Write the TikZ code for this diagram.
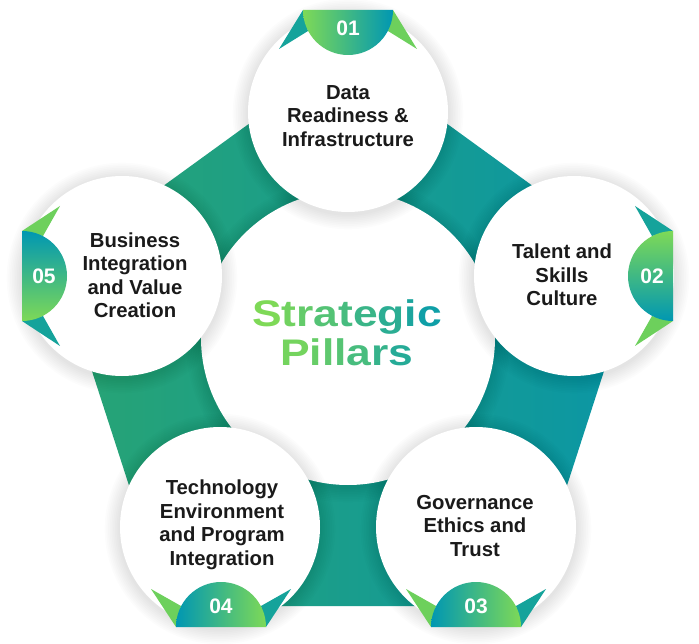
\documentclass[tikz,border=0pt]{standalone}
\usepackage{fontspec}
\setmainfont{Liberation Sans}
\newfontfamily\titlefont[FakeStretch=1.2]{Liberation Sans}
\usepackage{xcolor}
\usetikzlibrary{positioning}

\definecolor{pillarGreen}{HTML}{7ED957}
\definecolor{pillarTeal}{HTML}{0097B2}
\definecolor{wingGreen}{HTML}{6DD05C}
\definecolor{wingTeal}{HTML}{15A39B}
\definecolor{ringGreen}{HTML}{28A473}
\definecolor{ringTeal}{HTML}{0A96A6}
\definecolor{labelInk}{HTML}{1A1A1A}

% soft grey glow round a circle
\newcommand{\glowat}[2]{\foreach \g in {1,...,9}{\fill[black, opacity=0.012] #1 ++(0,2) circle ({#2+1.7*\g});}}
% one letter of the title in the green-teal mix
\newcommand{\tg}[2]{\textcolor{pillarGreen!#1!pillarTeal}{#2}}

\begin{document}
\begin{tikzpicture}[x=1pt, y=-1pt,
    pillar/.style={circle, fill=white, minimum size=200pt, inner sep=0pt},
    hub/.style={circle, fill=white, minimum size=294pt, inner sep=0pt},
    pillartext/.style={font=\bfseries\fontsize{20.3}{23.5}\selectfont, text=labelInk, align=center},
    badgenum/.style={font=\bfseries\fontsize{21}{21}\selectfont, text=white},
    titletext/.style={font=\titlefont\bfseries\fontsize{37}{38.5}\selectfont, align=center}]
    \fill[white] (0,0) rectangle (699,644);
    \useasboundingbox (0,0) rectangle (699,644);

    % the pentagon band
    \shade[left color=ringGreen, right color=ringTeal] (348,52) -- (639,263) -- (528,606) -- (168,606) -- (57,263) -- cycle;

    % hub and the five pillars
    \coordinate (c0) at (348,338);
    \coordinate (c1) at (348,112);
    \coordinate (c2) at (574,276);
    \coordinate (c3) at (476,527);
    \coordinate (c4) at (220,527);
    \coordinate (c5) at (122,276);
    \glowat{(c0)}{147}
    \node[hub] (hub) at (c0) {};
    \glowat{(c1)}{100}
    \node[pillar] (p1) at (c1) {};
    \glowat{(c2)}{100}
    \node[pillar] (p2) at (c2) {};
    \glowat{(c3)}{100}
    \node[pillar] (p3) at (c3) {};
    \glowat{(c4)}{100}
    \node[pillar] (p4) at (c4) {};
    \glowat{(c5)}{100}
    \node[pillar] (p5) at (c5) {};

    % badge 01
    \fill[wingTeal] (303,10) -- (279,49) -- (308,31) -- cycle;
    \fill[wingGreen] (393,10) -- (417,49) -- (388,31) -- cycle;
    \shade[left color=pillarGreen, right color=pillarTeal] (303,10) arc[start angle=180, end angle=0, radius=45] -- cycle;
    \node[badgenum] (n1) at (348,28) {01};

    % badge 02
    \fill[wingTeal] (673,231) -- (635,206) -- (652,236) -- cycle;
    \fill[wingGreen] (673,321) -- (635,346) -- (652,316) -- cycle;
    \shade[top color=pillarGreen, bottom color=pillarTeal] (673,231) arc[start angle=-90, end angle=-270, radius=45] -- cycle;
    \node[badgenum] (n2) at (652,276) {02};

    % badge 03
    \fill[wingGreen] (431,627) -- (406,589) -- (436,606) -- cycle;
    \fill[wingTeal] (521,627) -- (546,589) -- (516,606) -- cycle;
    \shade[left color=pillarTeal, right color=pillarGreen] (431,627) arc[start angle=180, end angle=360, radius=45] -- cycle;
    \node[badgenum] (n3) at (476,606) {03};

    % badge 04
    \fill[wingGreen] (176,627) -- (151,589) -- (181,606) -- cycle;
    \fill[wingTeal] (266,627) -- (291,589) -- (261,606) -- cycle;
    \shade[left color=pillarTeal, right color=pillarGreen] (176,627) arc[start angle=180, end angle=360, radius=45] -- cycle;
    \node[badgenum] (n4) at (221,606) {04};

    % badge 05
    \fill[wingGreen] (22,231) -- (60,206) -- (43,236) -- cycle;
    \fill[wingTeal] (22,321) -- (60,346) -- (43,316) -- cycle;
    \shade[top color=pillarTeal, bottom color=pillarGreen] (22,231) arc[start angle=-90, end angle=90, radius=45] -- cycle;
    \node[badgenum] (n5) at (44,276) {05};

    % pillar texts
    \node[pillartext] (data) at (348,116) {Data\\Readiness \&\\Infrastructure};
    \node[pillartext] (talent) at (562,275) {Talent and\\Skills\\Culture};
    \node[pillartext] (governance) at (475,526) {Governance\\Ethics and\\Trust};
    \node[pillartext] (technology) at (222,525) {Technology\\Environment\\and Program\\Integration};
    \node[pillartext] (business) at (135,275) {Business\\Integration\\and Value\\Creation};

    \node[titletext] (title) at (347,333) {\tg{100}{S}\tg{90}{t}\tg{79}{r}\tg{67}{a}\tg{56}{t}\tg{46}{e}\tg{34}{g}\tg{22}{i}\tg{12}{c}\\\tg{92}{P}\tg{82}{i}\tg{75}{l}\tg{68}{l}\tg{57}{a}\tg{43}{r}\tg{30}{s}};
\end{tikzpicture}
\end{document}
